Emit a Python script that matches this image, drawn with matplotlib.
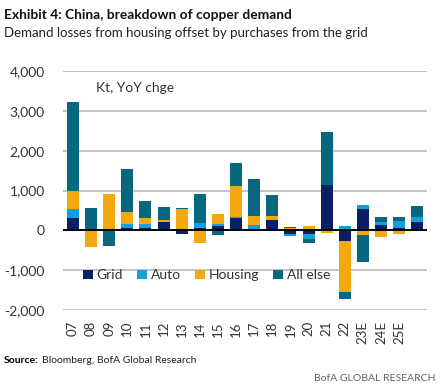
import numpy as np
import matplotlib.pyplot as plt

plt.rcParams['font.family'] = ['Lato', 'DejaVu Sans']

# Kt, YoY change; 20 bars, the last one has no label on the chart
years = ["07", "08", "09", "10", "11", "12", "13", "14", "15", "16",
         "17", "18", "19", "20", "21", "22", "23E", "24E", "25E"]
grid = [320, 0, 0, 60, 60, 200, -80, 70, 120, 310,
        0, 250, -80, -100, 1150, -265, 535, 140, 70, 200]
auto = [220, 30, 0, 100, 110, 0, 0, 110, 50, 30,
        140, 0, -60, -125, 0, 105, 110, 60, 170, 140]
housing = [460, -420, 900, 290, 140, 70, 540, -330, 240, 785,
           225, 120, 50, 115, -70, -1285, -115, -155, -80, 0]
all_else = [2230, 540, -390, 1080, 430, 325, 30, 720, -120, 575,
            930, 525, 40, -100, 1320, -165, -675, 140, 100, 260]

series = [("Grid", grid, "#0b1f65"),
          ("Auto", auto, "#149fda"),
          ("Housing", housing, "#f3a90c"),
          ("All else", all_else, "#07677e")]

fig = plt.figure(figsize=(4.45, 3.88), dpi=100)
ax = fig.add_axes([0.1416, 0.201, 0.8184, 0.616])

x = np.arange(len(grid))
pos_base = np.zeros(len(grid))
neg_base = np.zeros(len(grid))
for name, vals, col in series:
    v = np.array(vals, dtype=float)
    base = np.where(v >= 0, pos_base, neg_base)
    ax.bar(x, v, bottom=base, width=0.66, color=col, label=name, zorder=3)
    pos_base += np.where(v > 0, v, 0)
    neg_base += np.where(v < 0, v, 0)

ax.set_ylim(-2000, 4000)
ax.set_xlim(-0.55, 19.55)
ax.set_yticks(range(-2000, 4001, 1000))
ax.set_yticklabels([f"{t:,}" for t in range(-2000, 4001, 1000)])
ax.yaxis.grid(True, color="#c4c4c4", linewidth=1.4, zorder=0)
ax.axhline(0, color="black", linewidth=1.4, zorder=4)
for s in ax.spines.values():
    s.set_visible(False)
ax.tick_params(axis="y", length=0, pad=13, labelsize=10, labelcolor="#333333")
ax.set_xticks(np.arange(len(years)))
ax.set_xticklabels(years, rotation=90, fontsize=9.5, color="#333333")
ax.tick_params(axis="x", length=0, pad=8)

ax.text(0.09, 0.93, "Kt, YoY chge", transform=ax.transAxes, fontsize=10,
        color="#333333", va="center")

ax.legend(loc="center left", bbox_to_anchor=(0.02, 0.145), ncol=4, frameon=False,
          fontsize=10, handlelength=0.7, handleheight=0.7, handletextpad=0.3,
          columnspacing=1.0, labelcolor="#333333")

fig.text(0.009, 0.962, "Exhibit 4: China, breakdown of copper demand",
         fontsize=9.9, fontweight="bold", va="center", color="#111111")
fig.text(0.009, 0.914, "Demand losses from housing offset by purchases from the grid",
         fontsize=9.5, va="center", color="#222222")
fig.text(0.009, 0.072, "Source:", fontsize=7.5, fontweight="bold", va="center")
fig.text(0.095, 0.072, "Bloomberg, BofA Global Research", fontsize=7.5, va="center",
         color="#222222")
fig.text(0.978, 0.025, "BofA GLOBAL RESEARCH", fontsize=7.5, ha="right", va="center",
         color="#666666")

fig.savefig("out.png", dpi=100)
